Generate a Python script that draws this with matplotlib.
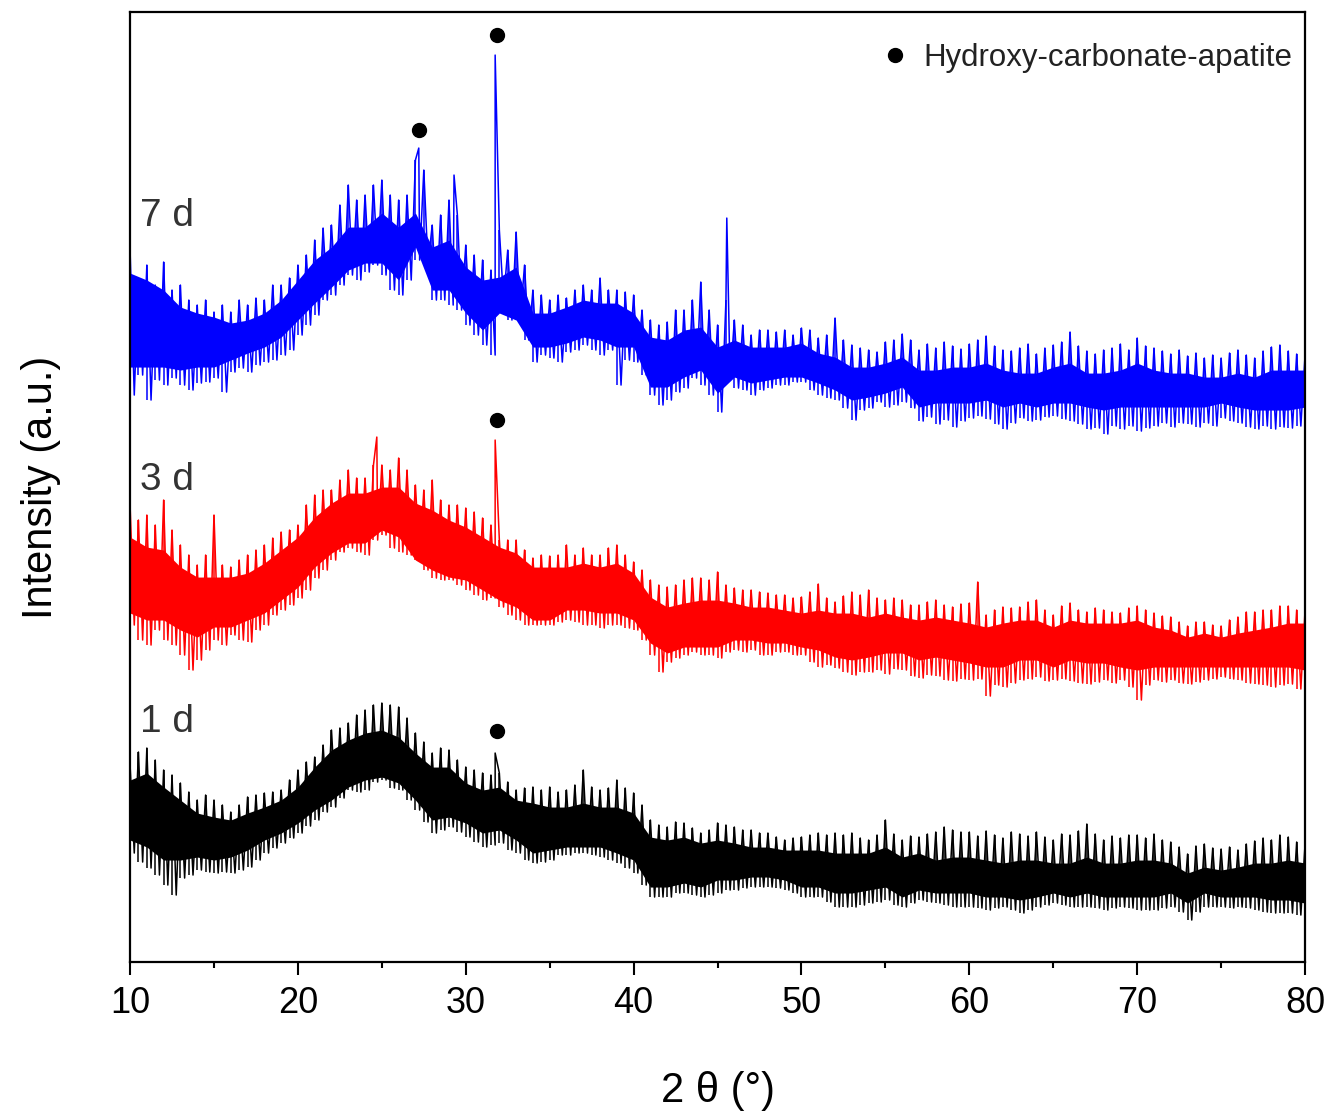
import numpy as np
import matplotlib
matplotlib.use('Agg')
import matplotlib.pyplot as plt
from matplotlib.lines import Line2D

# ---------------- data ----------------
two_theta = np.arange(10.0, 80.01, 0.5)    # fine grid for noise excursions (deg)
core_theta = np.arange(10.0, 80.01, 1.0)   # grid for the dense core of each trace

# ---- 7 d ----
# upper / lower noise excursions per 0.5 deg bin
d7_hi = [712, 682, 697, 677, 700, 672, 677, 662, 657, 662,
         650, 657, 650, 662, 657, 664, 662, 677, 677, 684,
         697, 707, 722, 734, 737, 757, 777, 762, 767, 777,
         782, 767, 762, 767, 802, 792, 737, 747, 762, 747,
         717, 707, 702, 692, 732, 712, 730, 697, 672, 667,
         662, 667, 664, 672, 677, 672, 684, 672, 672, 670,
         667, 652, 642, 637, 640, 652, 652, 662, 680, 652,
         637, 662, 642, 637, 627, 632, 632, 630, 632, 627,
         634, 632, 624, 627, 644, 622, 617, 614, 612, 610,
         620, 622, 628, 622, 612, 618, 614, 620, 616, 613,
         618, 622, 626, 616, 612, 611, 614, 618, 608, 614,
         617, 620, 630, 616, 611, 608, 612, 614, 618, 612,
         624, 616, 614, 611, 608, 612, 606, 609, 604, 607,
         604, 609, 612, 607, 604, 611, 615, 617, 611, 608,
         607]
d7_lo = [567, 587, 562, 582, 577, 584, 577, 572, 579, 580,
         584, 570, 590, 594, 590, 597, 600, 602, 607, 612,
         627, 637, 647, 662, 667, 677, 687, 682, 690, 697,
         687, 672, 667, 682, 702, 697, 662, 662, 657, 652,
         637, 627, 617, 607, 662, 642, 642, 622, 600, 607,
         604, 600, 610, 612, 617, 612, 607, 612, 577, 602,
         600, 587, 567, 557, 562, 570, 574, 584, 577, 567,
         550, 582, 574, 572, 567, 572, 574, 577, 577, 580,
         580, 572, 567, 564, 562, 554, 542, 552, 554, 560,
         555, 557, 560, 554, 541, 545, 538, 542, 535, 541,
         544, 546, 543, 538, 533, 539, 544, 541, 542, 545,
         546, 543, 541, 538, 533, 534, 528, 536, 533, 536,
         531, 534, 536, 539, 535, 539, 538, 535, 539, 536,
         544, 541, 539, 535, 533, 536, 533, 535, 534, 536,
         539]
# dense core (1 deg steps)
d7_core_hi = [689, 682, 672, 655, 649, 645, 639, 642, 649, 662,
              682, 702, 715, 735, 735, 749, 735, 749, 715, 722,
              695, 682, 685, 695, 649, 649, 655, 662, 659, 659,
              649, 625, 622, 632, 635, 615, 622, 615, 615, 615,
              619, 609, 605, 595, 595, 599, 605, 592, 592, 595,
              595, 599, 592, 589, 589, 595, 599, 589, 589, 592,
              599, 592, 589, 589, 585, 585, 589, 585, 592, 592, 592]
d7_core_lo = [595, 595, 595, 592, 595, 595, 602, 609, 615, 625,
              642, 659, 675, 692, 699, 699, 682, 715, 672, 672,
              649, 632, 649, 642, 615, 615, 619, 625, 622, 615,
              615, 575, 575, 585, 592, 569, 585, 579, 582, 585,
              585, 579, 572, 562, 565, 569, 575, 555, 559, 559,
              559, 562, 555, 559, 555, 559, 559, 555, 552, 555,
              555, 555, 555, 555, 555, 559, 555, 552, 552, 552, 555]
d7_peak_x = [27.2, 29.3, 31.75, 45.55]
d7_peak_y = [814, 787, 907, 744]

# ---- 3 d ----
d3_hi = [457, 442, 447, 437, 462, 432, 417, 407, 397, 407,
         447, 397, 395, 402, 407, 412, 417, 424, 430, 432,
         437, 457, 467, 472, 472, 482, 492, 484, 484, 497,
         497, 492, 504, 492, 477, 472, 482, 462, 457, 457,
         454, 450, 444, 437, 422, 422, 422, 412, 404, 407,
         406, 407, 417, 407, 414, 407, 407, 414, 417, 407,
         400, 392, 382, 377, 375, 377, 382, 384, 384, 382,
         390, 377, 374, 372, 372, 370, 369, 367, 367, 364,
         365, 370, 378, 364, 360, 366, 370, 367, 372, 364,
         362, 364, 362, 357, 357, 360, 362, 357, 355, 358,
         359, 380, 347, 352, 355, 354, 355, 360, 362, 352,
         347, 356, 359, 352, 350, 354, 352, 350, 349, 354,
         356, 352, 349, 346, 345, 340, 336, 340, 340, 337,
         336, 342, 345, 350, 350, 352, 352, 356, 356, 352,
         352]
d3_lo = [337, 322, 317, 332, 322, 317, 307, 292, 302, 312,
         322, 317, 327, 322, 320, 332, 337, 347, 352, 357,
         364, 372, 384, 392, 402, 410, 414, 410, 407, 422,
         427, 414, 410, 407, 402, 392, 384, 382, 382, 377,
         372, 367, 362, 364, 355, 347, 342, 337, 337, 337,
         337, 340, 342, 340, 337, 337, 334, 337, 337, 334,
         332, 322, 307, 290, 300, 304, 307, 310, 307, 307,
         304, 310, 312, 310, 312, 307, 307, 310, 310, 307,
         307, 300, 295, 297, 294, 290, 287, 290, 290, 292,
         288, 293, 292, 286, 284, 287, 286, 282, 281, 283,
         282, 283, 266, 277, 275, 279, 282, 283, 285, 281,
         282, 283, 281, 279, 278, 280, 282, 279, 282, 275,
         262, 277, 282, 280, 282, 279, 278, 280, 282, 283,
         285, 283, 282, 279, 278, 277, 275, 277, 278, 273,
         270]
d3_core_hi = [425, 415, 412, 395, 385, 385, 385, 389, 399, 412,
              425, 445, 459, 469, 469, 475, 475, 459, 452, 442,
              435, 425, 415, 409, 395, 395, 395, 399, 395, 399,
              389, 365, 355, 359, 362, 362, 359, 355, 355, 352,
              349, 352, 349, 349, 345, 349, 345, 342, 345, 342,
              339, 335, 339, 342, 342, 335, 342, 339, 339, 339,
              342, 335, 332, 325, 329, 325, 329, 332, 335, 339, 339]
d3_core_lo = [349, 342, 342, 332, 325, 335, 335, 342, 349, 362,
              375, 395, 409, 419, 419, 432, 425, 402, 392, 385,
              382, 372, 362, 355, 342, 342, 352, 352, 349, 349,
              342, 319, 309, 315, 315, 315, 322, 322, 319, 319,
              315, 312, 305, 302, 305, 309, 309, 302, 305, 302,
              299, 295, 295, 302, 302, 295, 302, 299, 299, 295,
              292, 295, 295, 295, 295, 295, 295, 295, 295, 295, 292]
d3_peak_x = [24.7, 31.75]
d3_peak_y = [525, 522]

# ---- 1 d ----
d1_hi = [197, 210, 214, 202, 192, 187, 179, 170, 162, 167,
         162, 157, 150, 157, 165, 167, 169, 170, 172, 182,
         192, 200, 205, 217, 232, 234, 239, 247, 252, 257,
         259, 257, 255, 244, 229, 220, 209, 214, 212, 202,
         195, 192, 189, 187, 189, 180, 172, 174, 175, 172,
         175, 170, 172, 177, 192, 175, 172, 174, 182, 174,
         169, 157, 142, 137, 135, 140, 139, 134, 129, 132,
         139, 137, 135, 132, 132, 129, 129, 125, 122, 124,
         125, 127, 129, 127, 129, 127, 129, 124, 122, 127,
         142, 128, 122, 126, 125, 128, 130, 135, 132, 130,
         130, 126, 131, 127, 124, 130, 128, 126, 130, 125,
         122, 128, 127, 131, 138, 128, 122, 126, 124, 127,
         127, 124, 128, 122, 120, 115, 108, 116, 118, 114,
         113, 115, 112, 118, 121, 124, 122, 127, 125, 120,
         118]
d1_lo = [109, 100, 94, 87, 77, 67, 84, 87, 92, 90,
         89, 90, 89, 92, 95, 102, 109, 114, 119, 124,
         129, 136, 142, 150, 155, 164, 172, 170, 172, 180,
         182, 174, 172, 162, 152, 140, 129, 132, 135, 130,
         125, 120, 115, 117, 119, 112, 109, 102, 99, 100,
         102, 107, 107, 109, 109, 107, 105, 102, 99, 94,
         89, 77, 65, 65, 65, 69, 69, 67, 65, 67,
         69, 72, 72, 74, 75, 75, 75, 74, 72, 69,
         65, 65, 65, 60, 55, 55, 55, 57, 59, 60,
         62, 57, 55, 59, 62, 60, 59, 57, 55, 55,
         55, 54, 52, 54, 55, 52, 49, 52, 55, 57,
         59, 57, 55, 55, 55, 54, 52, 54, 55, 54,
         52, 52, 52, 54, 55, 50, 42, 50, 55, 55,
         55, 54, 55, 54, 52, 50, 49, 49, 49, 47,
         45]
d1_core_hi = [182, 189, 175, 162, 149, 145, 142, 149, 155, 162,
              175, 195, 212, 222, 229, 232, 225, 209, 195, 195,
              179, 172, 175, 162, 159, 155, 155, 159, 155, 155,
              149, 125, 122, 125, 119, 122, 119, 115, 115, 112,
              112, 112, 109, 109, 109, 115, 105, 109, 102, 105,
              105, 102, 99, 102, 102, 99, 99, 105, 99, 99,
              102, 102, 99, 89, 95, 92, 95, 99, 99, 102, 99]
d1_core_lo = [122, 115, 102, 102, 105, 102, 105, 112, 122, 129,
              139, 152, 162, 175, 182, 185, 179, 162, 142, 145,
              139, 129, 132, 122, 109, 112, 115, 115, 115, 109,
              102, 75, 75, 79, 75, 82, 82, 85, 85, 82,
              75, 75, 69, 69, 72, 75, 65, 72, 69, 69,
              69, 65, 65, 62, 65, 69, 65, 69, 65, 65,
              65, 65, 69, 59, 69, 65, 65, 65, 62, 62, 59]
d1_peak_x = [31.75]
d1_peak_y = [209]

# Hydroxy-carbonate-apatite markers
hca_x = [31.86, 27.22, 31.86, 31.86]
hca_y = [927, 832, 542, 231]

series_labels = ['7 d', '3 d', '1 d']
series_colors = ['#0000FF', '#FF0000', '#000000']
label_y = [736, 472, 230]
legend_text = 'Hydroxy-carbonate-apatite'

# ---------------- plotting ----------------
plt.rcParams['font.family'] = ['Liberation Sans', 'DejaVu Sans']

fig = plt.figure(figsize=(13.34, 11.18), dpi=100)
ax = fig.add_axes([0.0975, 0.1395, 0.8808, 0.8497])


def trace(hi, lo, px, py):
    xs = np.concatenate([two_theta, two_theta + 0.25, np.asarray(px, float)])
    ys = np.concatenate([np.asarray(hi, float), np.asarray(lo, float),
                         np.asarray(py, float)])
    order = np.argsort(xs, kind='stable')
    return xs[order], ys[order]


series = [(d7_hi, d7_lo, d7_core_hi, d7_core_lo, d7_peak_x, d7_peak_y),
          (d3_hi, d3_lo, d3_core_hi, d3_core_lo, d3_peak_x, d3_peak_y),
          (d1_hi, d1_lo, d1_core_hi, d1_core_lo, d1_peak_x, d1_peak_y)]

for (hi, lo, chi, clo, px, py), col in zip(series, series_colors):
    ax.fill_between(core_theta, clo, chi, color=col, lw=0)
    x, y = trace(hi, lo, px, py)
    ax.plot(x, y, color=col, lw=1.1)
    ax.vlines(two_theta, lo, hi, color=col, lw=1.1)

ax.plot(hca_x, hca_y, 'o', color='black', ms=10, ls='none')

for lab, ly in zip(series_labels, label_y):
    ax.text(10.6, ly, lab, fontsize=28, color='#333333', va='baseline', ha='left')

handle = Line2D([], [], marker='o', color='black', ls='none', ms=10)
ax.legend([handle], [legend_text], loc='center right',
          bbox_to_anchor=(0.989, 0.952), frameon=False, fontsize=22.5,
          handlelength=0.6, handletextpad=0.6, borderpad=0, borderaxespad=0,
          labelcolor='#222222')

ax.set_xlim(10, 80)
ax.set_ylim(0, 950)
ax.set_xticks(np.arange(10, 81, 10))
ax.set_xticks(np.arange(15, 80, 10), minor=True)
ax.set_yticks([])
ax.tick_params(axis='x', which='major', direction='out', length=9, width=1.5,
               labelsize=26, pad=8)
ax.tick_params(axis='x', which='minor', direction='out', length=4.5, width=1.5)
for s in ax.spines.values():
    s.set_linewidth(1.6)

ax.set_xlabel('2 θ (°)', fontsize=30, labelpad=36)
ax.set_ylabel('Intensity (a.u.)', fontsize=30, labelpad=50)

fig.savefig('out.png', dpi=100)
